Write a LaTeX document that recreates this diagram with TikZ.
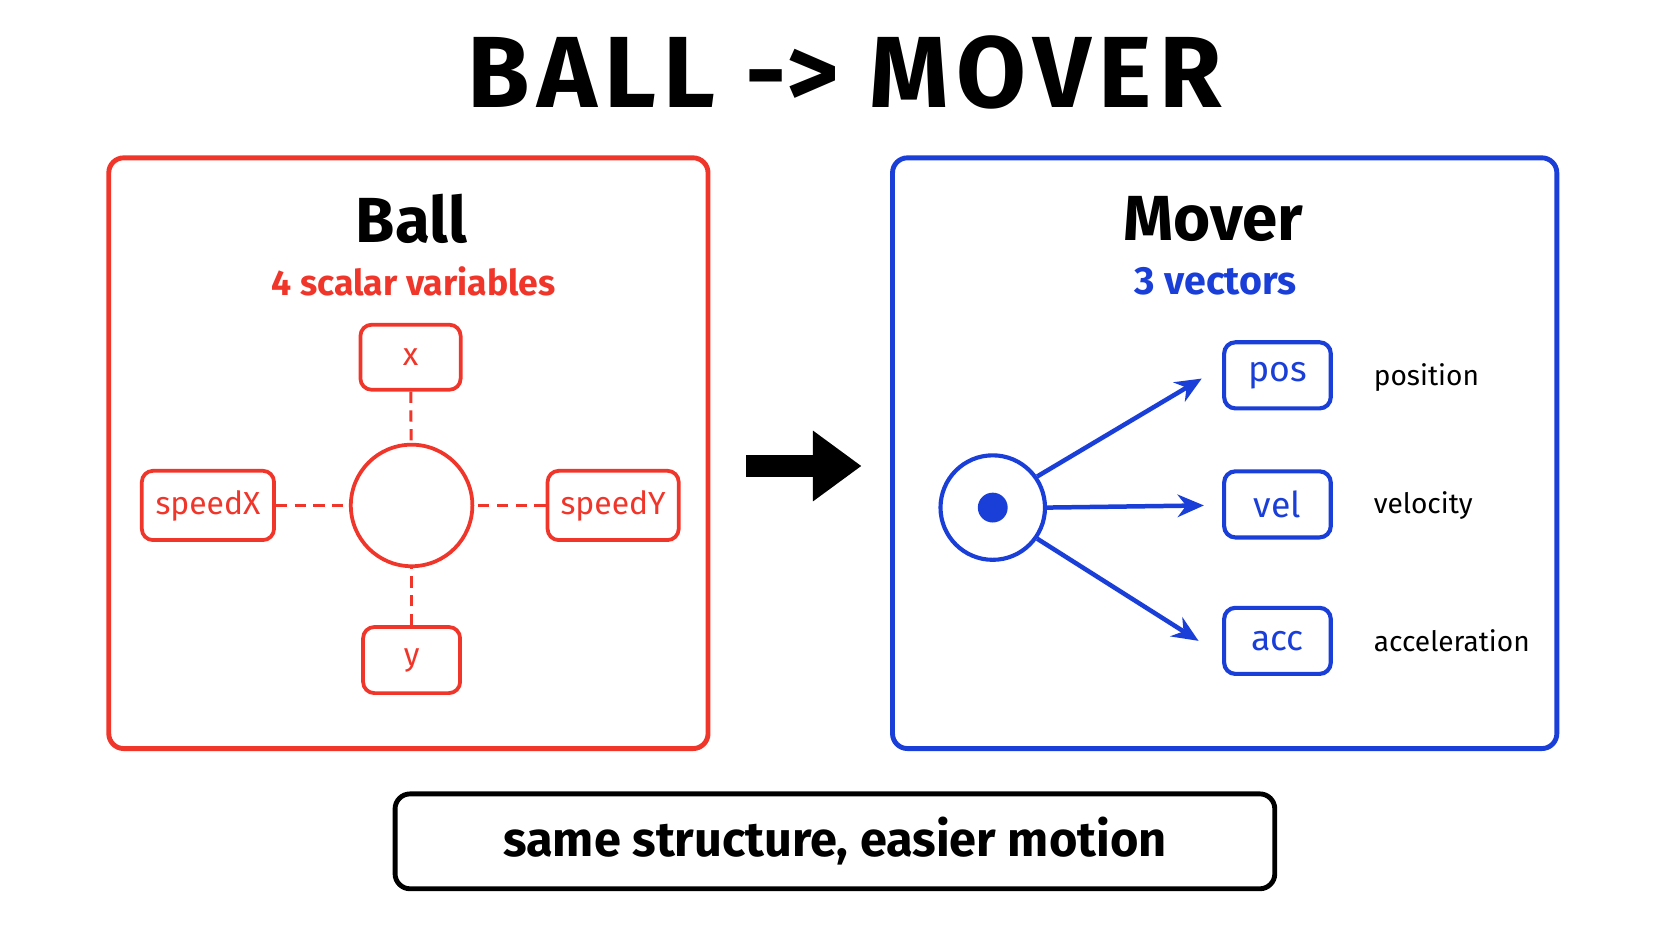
\documentclass[tikz,border=0pt]{standalone}
\usepackage{fontspec}
\setmainfont{Fira Sans}
\usetikzlibrary{arrows.meta}
\definecolor{rd}{HTML}{F0362A}
\definecolor{bl}{HTML}{1A3FD9}
\begin{document}
\begin{tikzpicture}[x=0.1mm,y=-0.1mm,
  panel/.style={draw, line width=1.3pt, rounded corners=4pt},
  rbox/.style={draw=rd, text=rd, line width=1pt, rounded corners=3pt, font=\fontsize{8.5}{9}\selectfont},
  bbox/.style={draw=bl, text=bl, line width=1.1pt, rounded corners=3pt, minimum width=10mm, minimum height=6.2mm, font=\fontsize{9.5}{10}\selectfont},
  rdash/.style={rd, line width=0.8pt, dash pattern=on 3pt off 2pt},
  varr/.style={bl, line width=1.2pt, -{Stealth[length=7pt,width=6pt]}},
  lab/.style={anchor=west, font=\fontsize{7.5}{8}\selectfont}]
\useasboundingbox[fill=white] (0,0) rectangle (1568,882);
\node[font=\fontsize{27}{30}\bfseries\selectfont] (title) at (792,68) {B\kern2pt A\kern2pt L\kern2pt L\hspace{8pt}->\hspace{8pt}M\kern2pt O\kern2pt V\kern2pt E\kern2pt R};
% left panel
\draw[panel, draw=rd] (102,148) rectangle (664,702);
\node[font=\fontsize{17}{18}\bfseries\selectfont] (ball) at (386,205) {Ball};
\node[text=rd, font=\fontsize{9.5}{10}\bfseries\selectfont] (bsub) at (388,264) {4 scalar variables};
\node[draw=rd, line width=1pt, circle, minimum size=11.4mm] (c) at (386,474) {};
\node[rbox, minimum width=9.4mm, minimum height=6.1mm] (x) at (385,335) {x};
\node[rbox, minimum width=9.1mm, minimum height=6.2mm] (y) at (386,619) {y};
\node[rbox, minimum width=12.4mm, minimum height=6.5mm] (sx) at (195,474) {speedX};
\node[rbox, minimum width=12.3mm, minimum height=6.5mm] (sy) at (575,474) {speedY};
\draw[rdash] (x) -- (c); \draw[rdash] (y) -- (c);
\draw[rdash] (sx) -- (c); \draw[rdash] (sy) -- (c);
% big arrow
\coordinate (a1) at (700,437); \coordinate (a2) at (808,437);
\draw[line width=6pt, -{Triangle[length=13pt,width=18pt]}] (a1) -- (a2);
% right panel
\draw[panel, draw=bl] (837,148) rectangle (1460,702);
\node[font=\fontsize{17}{18}\bfseries\selectfont] (mover) at (1138,205) {Mover};
\node[text=bl, font=\fontsize{10.5}{11}\bfseries\selectfont] (msub) at (1140,264) {3 vectors};
\node[draw=bl, line width=1.1pt, circle, minimum size=9.8mm] (m) at (931,476) {};
\fill[bl] (m.center) circle (14);
\node[bbox] (pos) at (1198,352) {pos};
\node[bbox] (vel) at (1198,473) {vel};
\node[bbox] (acc) at (1198,601) {acc};
\coordinate (tp) at (1127,355); \coordinate (tv) at (1129,474); \coordinate (ta) at (1124,601);
\draw[varr] (m.35) -- (tp);
\draw[varr] (m.east) -- (tv);
\draw[varr] (m.-35) -- (ta);
\node[lab] (lp) at (1276,354) {position};
\node[lab] (lv) at (1276,474) {velocity};
\node[lab] (la) at (1276,601) {acceleration};
% bottom
\node[draw, line width=1.3pt, rounded corners=4pt, minimum width=82.5mm, minimum height=8.9mm, font=\fontsize{13}{14}\bfseries\selectfont] (foot) at (783,789) {same structure, easier motion};
\end{tikzpicture}
\end{document}
